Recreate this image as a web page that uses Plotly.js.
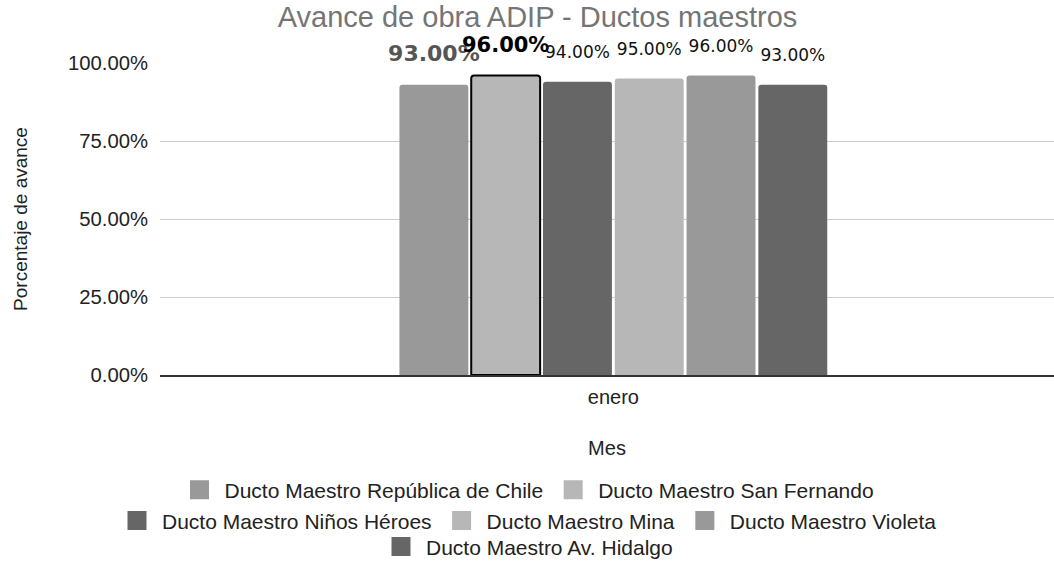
<!DOCTYPE html>
<html>
<head>
<meta charset="utf-8">
<script src="https://cdn.plot.ly/plotly-3.0.1.min.js"></script>
<style>html,body{margin:0;padding:0;background:#fff;}#chart{width:1054px;height:562px;}</style>
</head>
<body>
<div id="chart"></div>
<script>
var categories = ['enero'];
var seriesNames = [
  'Ducto Maestro República de Chile',
  'Ducto Maestro San Fernando',
  'Ducto Maestro Niños Héroes',
  'Ducto Maestro Mina',
  'Ducto Maestro Violeta',
  'Ducto Maestro Av. Hidalgo'
];
var seriesValues = [[0.93], [0.96], [0.94], [0.95], [0.96], [0.93]];
var seriesColors = ['#999999', '#b7b7b7', '#666666', '#b7b7b7', '#999999', '#666666'];
var legendGroups = ['legend', 'legend', 'legend2', 'legend2', 'legend2', 'legend3'];
var yTickVals = [0, 0.25, 0.5, 0.75, 1];

// label styling per series: [font size, bold, colour]
var labelStyles = [
  [22, true, '#555555'],
  [21, true, '#000000'],
  [17, false, '#111111'],
  [17, false, '#111111'],
  [17, false, '#111111'],
  [17, false, '#111111']
];

var traces = [];
seriesNames.forEach(function (name, i) {
  var st = labelStyles[i];
  traces.push({
    type: 'bar',
    name: name,
    x: categories,
    y: seriesValues[i],
    showlegend: false,
    legendgroup: 'g' + i,
    marker: {
      color: seriesColors[i],
      cornerradius: 3,
      line: {color: '#000000', width: i === 1 ? 2 : 0}
    },
    texttemplate: '<span style="font-size:' + st[0] + 'px">%{y:.2%}</span><br> ',
    textposition: 'outside',
    constraintext: 'none',
    cliponaxis: false,
    textfont: {family: 'DejaVu Sans', size: 13.5, color: st[2], weight: st[1] ? 'bold' : 'normal'},
    hoverinfo: 'name+y'
  });
});
// legend entries (square swatches like the original)
seriesNames.forEach(function (name, i) {
  traces.push({
    type: 'scatter',
    mode: 'markers',
    name: name,
    x: [null],
    y: [null],
    legend: legendGroups[i],
    legendgroup: 'g' + i,
    showlegend: true,
    hoverinfo: 'skip',
    marker: {symbol: 'square', size: 16, color: seriesColors[i], line: {color: seriesColors[i], width: 3}}
  });
});

var legendFont = {family: 'Liberation Sans, Arial, sans-serif', size: 21, color: '#222222'};
function legendAt(y) {
  return {
    orientation: 'h', xref: 'container', x: 0.5, xanchor: 'center',
    yref: 'container', y: y, yanchor: 'middle', font: legendFont, traceorder: 'normal',
    itemwidth: 40,
    bgcolor: 'rgba(0,0,0,0)'
  };
}

var layout = {
  width: 1054, height: 562,
  margin: {l: 160, r: 0, t: 63, b: 187},
  paper_bgcolor: '#ffffff', plot_bgcolor: '#ffffff',
  font: {family: 'Liberation Sans, Arial, sans-serif', size: 20, color: '#222222'},
  title: {
    text: 'Avance de obra ADIP - Ductos maestros',
    font: {family: 'Liberation Sans, Arial, sans-serif', size: 29, color: '#757575'},
    x: 0.51, xanchor: 'center', y: 0.97, yanchor: 'middle', yref: 'container'
  },
  barmode: 'group',
  bargap: 0.525,
  bargroupgap: 0.04,
  xaxis: {
    type: 'category',
    range: [-0.5, 0.486],
    showline: true, linecolor: '#333333', linewidth: 1.5,
    showgrid: false, zeroline: false,
    tickfont: {size: 20, color: '#222222'},
    ticks: '', ticklen: 0,
    ticklabelstandoff: 3,
    title: {text: 'Mes', font: {size: 20, color: '#222222'}, standoff: 34},
    automargin: true
  },
  yaxis: {
    range: [0, 1],
    tickvals: yTickVals,
    tickformat: '.2%',
    tickfont: {size: 20.3, color: '#222222'},
    gridcolor: '#cccccc', gridwidth: 1,
    zeroline: false, showline: false,
    ticklabelstandoff: 11,
    title: {text: 'Porcentaje de avance', font: {size: 19, color: '#222222'}, standoff: 35},
    automargin: true
  },
  showlegend: true,
  legend: legendAt(0.128),
  legend2: legendAt(0.073),
  legend3: legendAt(0.027)
};

Plotly.newPlot('chart', traces, layout, {displayModeBar: false, responsive: false});
</script>
</body>
</html>
